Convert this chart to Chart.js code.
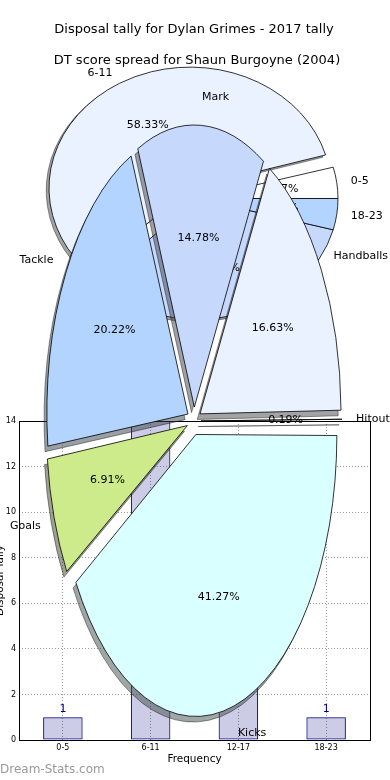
<!DOCTYPE html>
<html>
<head>
<meta charset="utf-8">
<title>Disposal tally for Dylan Grimes - 2017 tally</title>
<script src="https://cdn.jsdelivr.net/npm/chart.js@4.4.0/dist/chart.umd.min.js"></script>
<style>
	html, body { margin: 0; background: #fff; }
	#wrap { position: relative; width: 390px; height: 780px; overflow: hidden; }
	#wrap canvas { position: absolute; left: 0; top: 0; }
</style>
</head>
<body>
<div id="wrap">
	<canvas id="bars" width="390" height="780"></canvas>
	<canvas id="spread" width="390" height="780"></canvas>
	<canvas id="stats" width="390" height="780"></canvas>
</div>
<script>
const ranges = ['0-5', '6-11', '12-17', '18-23'];
const tally = [1, 14, 8, 1];
const tallyTicks = [0, 2, 4, 6, 8, 10, 12, 14];
const statNames = ['Hitout', 'Handballs', 'Mark', 'Tackle', 'Goals', 'Kicks'];
const statShare = [0.19, 16.63, 14.78, 20.22, 6.91, 41.27];

const FONT = '"DejaVu Sans"';
Chart.defaults.font.family = FONT;
Chart.defaults.color = '#000';

// box, value labels and watermark for the histogram
const frame = {
	id: 'frame',
	afterDraw(chart) {
		const {ctx, chartArea: a} = chart;
		ctx.save();
		ctx.strokeStyle = '#000';
		ctx.lineWidth = 1;
		ctx.strokeRect(Math.round(a.left) + 0.5, Math.round(a.top) + 0.5, Math.round(a.right - a.left), Math.round(a.bottom - a.top));
		ctx.fillStyle = '#000080';
		ctx.font = '11px ' + FONT;
		ctx.textAlign = 'center';
		ctx.textBaseline = 'middle';
		const vals = chart.data.datasets[0].data;
		chart.getDatasetMeta(0).data.forEach((b, i) => ctx.fillText(vals[i], b.x, b.y - 8));
		ctx.fillStyle = '#999';
		ctx.font = '12px ' + FONT;
		ctx.textAlign = 'left';
		ctx.fillText('Dream-Stats.com', 0, 770);
		ctx.restore();
	}
};

// draws a pie squashed into an ellipse (counter-clockwise, like matplotlib) with a drop shadow
const squashed = {
	id: 'squashed',
	beforeDatasetsDraw(chart, args, o) {
		const ctx = chart.ctx;
		const meta = chart.getDatasetMeta(0);
		const R = meta.controller.outerRadius;
		meta.data.forEach(a => {
			const d = (a.options.offset || 0) / 4;
			a.outerRadius = R - d * (1 - Math.sin(Math.min(Math.PI, a.circumference)));
		});
		const c = meta.data[0];
		const squash = () => { ctx.translate(c.x, c.y); ctx.scale(1, -o.k); ctx.translate(-c.x, -c.y); };
		const stroke = ctx.stroke;
		ctx.stroke = function () { this.save(); this.setTransform(1, 0, 0, 1, 0, 0); stroke.call(this); this.restore(); };
		ctx.save();
		ctx.translate(o.shadow[0], o.shadow[1]);
		squash();
		ctx.filter = 'brightness(30%)';
		ctx.globalAlpha = 0.5;
		meta.data.forEach(a => a.draw(ctx));
		ctx.restore();
		ctx.save();
		squash();
	},
	afterDatasetsDraw(chart, args, o) {
		const ctx = chart.ctx;
		ctx.restore();
		delete ctx.stroke;
		const meta = chart.getDatasetMeta(0);
		const vals = chart.data.datasets[0].data;
		const names = chart.data.labels;
		const total = vals.reduce((s, v) => s + v, 0);
		const R = meta.controller.outerRadius;
		ctx.save();
		ctx.font = '11px ' + FONT;
		ctx.fillStyle = '#000';
		ctx.textBaseline = 'middle';
		meta.data.forEach((a, i) => {
			const mid = (a.startAngle + a.endAngle) / 2;
			const d = (a.options.offset || 0) / 4;
			const cos = Math.cos(mid), sin = Math.sin(mid);
			const pt = f => [a.x + cos * (f * R + d), a.y - o.k * sin * (f * R + d)];
			let [x, y] = pt(0.6);
			ctx.textAlign = 'center';
			ctx.fillText((vals[i] / total * 100).toFixed(2) + '%', x, y);
			[x, y] = pt(1.1);
			ctx.textAlign = cos > 0 ? 'left' : 'right';
			ctx.fillText(names[i], x, y);
		});
		ctx.restore();
	}
};

const dotted = {color: 'rgba(0,0,0,0.4)', drawTicks: false, offset: false, z: 1};
const noBorder = {display: false, dash: [1, 2]};

new Chart(document.getElementById('bars'), {
	type: 'bar',
	data: {
		labels: ranges,
		datasets: [{
			data: tally,
			backgroundColor: 'rgba(0,0,128,0.2)',
			borderColor: '#000080',
			borderWidth: 1,
			borderSkipped: false,
			barPercentage: 0.45,
			categoryPercentage: 1
		}]
	},
	options: {
		responsive: false,
		animation: false,
		events: [],
		devicePixelRatio: 1,
		layout: {padding: {top: 421, right: 20, left: 0, bottom: 0}},
		plugins: {legend: {display: false}, tooltip: {enabled: false}},
		scales: {
			x: {
				grid: dotted,
				border: noBorder,
				ticks: {font: {size: 8}, padding: 3, maxRotation: 0},
				title: {display: true, text: 'Frequency', font: {size: 10.5}, padding: {top: 0, bottom: 14}},
				afterFit: s => { s.height = 40; }
			},
			y: {
				min: 0,
				max: 14,
				grid: dotted,
				border: noBorder,
				ticks: {font: {size: 8}, padding: 3},
				afterBuildTicks: s => { s.ticks = tallyTicks.map(v => ({value: v})); },
				title: {display: true, text: 'Disposal Tally', font: {size: 10.5}, padding: {top: -6, bottom: 0}},
				afterFit: s => { s.width = 19; }
			}
		}
	},
	plugins: [frame]
});

new Chart(document.getElementById('spread'), {
	type: 'pie',
	data: {
		labels: ranges,
		datasets: [{
			data: tally,
			backgroundColor: ['#ffffff', '#eaf2ff', '#c6d9fd', '#b3d4ff'],
			borderColor: '#000',
			borderWidth: 0.8,
			borderJoinStyle: 'miter',
			offset: [0, 56, 0, 0],
			clip: false
		}]
	},
	options: {
		responsive: false,
		animation: false,
		events: [],
		devicePixelRatio: 1,
		rotation: 90,
		radius: 141,
		layout: {padding: {left: 4, right: 0, top: 0, bottom: 451.6}},
		plugins: {
			legend: {display: false},
			tooltip: {enabled: false},
			title: {display: true, text: 'DT score spread for Shaun Burgoyne (2004)', color: '#000', font: {size: 13, weight: 'normal'}, padding: {top: 53, bottom: 0}},
			squashed: {k: 0.858, shadow: [-2.8, 2.4]}
		}
	},
	plugins: [squashed]
});

new Chart(document.getElementById('stats'), {
	type: 'pie',
	data: {
		labels: statNames,
		datasets: [{
			data: statShare,
			backgroundColor: ['#ffffff', '#eaf2ff', '#c6d9fd', '#b3d4ff', '#cdeb8b', '#d9ffff'],
			borderColor: '#000',
			borderWidth: 0.8,
			borderJoinStyle: 'miter',
			offset: 28,
			clip: false
		}]
	},
	options: {
		responsive: false,
		animation: false,
		events: [],
		devicePixelRatio: 1,
		rotation: 90,
		radius: 141,
		layout: {padding: {left: 0, right: 2, top: 0, bottom: 0}},
		plugins: {
			legend: {display: false},
			tooltip: {enabled: false},
			title: {display: true, text: 'Disposal tally for Dylan Grimes - 2017 tally', color: '#000', font: {size: 13, weight: 'normal'}, padding: {top: 22, bottom: 24.4}},
			squashed: {k: 2, shadow: [-2.8, 5.6]}
		}
	},
	plugins: [squashed]
});
</script>
</body>
</html>
